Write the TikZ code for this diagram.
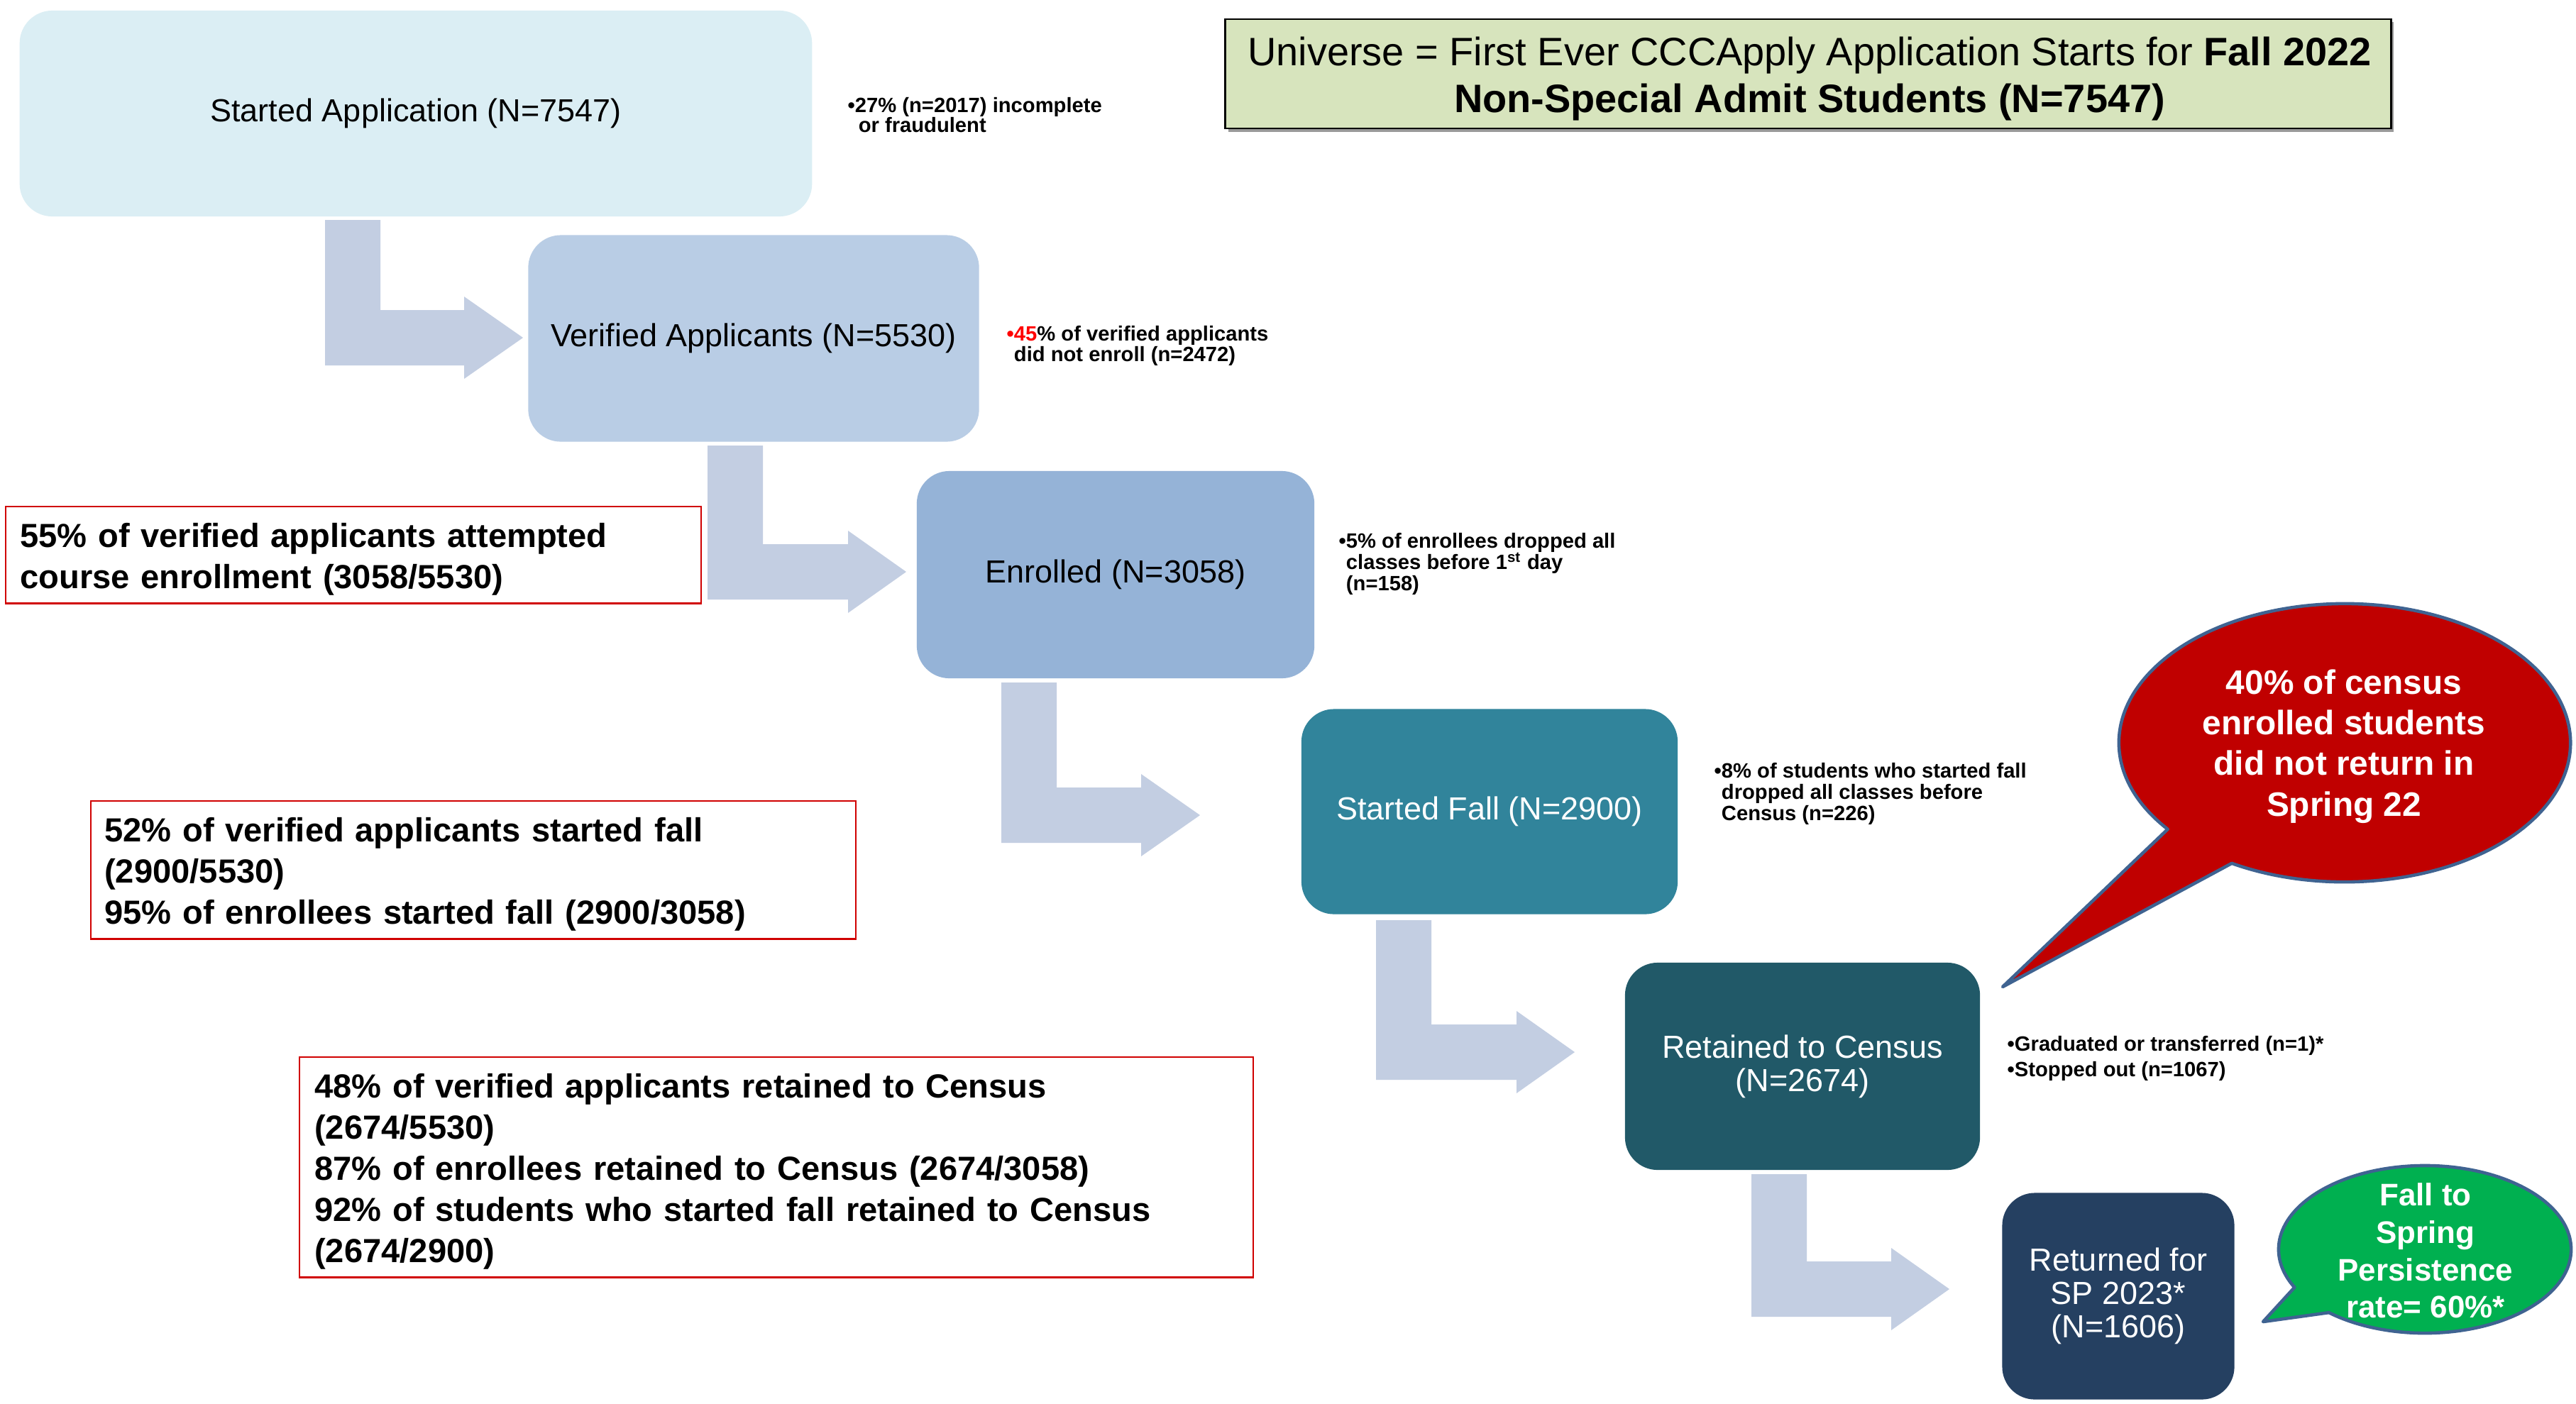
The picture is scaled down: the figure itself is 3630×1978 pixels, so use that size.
\documentclass[tikz,border=0pt]{standalone}
\usepackage{fontspec}
\setmainfont{Liberation Sans}
\usetikzlibrary{calc}
\definecolor{boxA}{HTML}{DBEEF4}
\definecolor{boxB}{HTML}{B9CDE5}
\definecolor{boxC}{HTML}{95B3D7}
\definecolor{boxD}{HTML}{31849B}
\definecolor{boxE}{HTML}{215968}
\definecolor{boxF}{HTML}{254061}
\definecolor{arrowC}{HTML}{C3CEE2}
\definecolor{univC}{HTML}{D7E4BD}
\definecolor{redline}{HTML}{D00000}
\definecolor{redbub}{HTML}{C00000}
\definecolor{greenbub}{HTML}{00B050}
\definecolor{bubline}{HTML}{3F6391}
\definecolor{notered}{HTML}{FF0000}
\newcommand\bendarrow[5]{%
  \fill[arrowC] (#1,#2) -- (#1+78,#2) -- (#1+78,#3-39) -- (#4,#3-39) -- (#4,#3-58) -- (#5,#3) -- (#4,#3+58) -- (#4,#3+39) -- (#1,#3+39) -- cycle;}
\newcommand\firststrut{\rule{0pt}{13pt}}
\begin{document}
\begin{tikzpicture}[x=0.01cm, y=-0.01cm,
  stage/.style={rounded corners=0.46cm, inner sep=0pt, align=center, font=\fontsize{12.8}{13.4}\selectfont},
  note/.style={anchor=north west, inner sep=0pt, align=left},
  statbox/.style={draw=redline, line width=0.7pt, fill=white, anchor=north west, align=left, inner ysep=0pt, font=\fontsize{13.4}{16.5}\selectfont\bfseries},
  bubtext/.style={text=white, align=center},
  bubble/.style={draw=bubline, line width=1.3pt, line join=round}]
\useasboundingbox (0,0) rectangle (3630,1978);
\fill[white] (0,0) rectangle (3630,1978);

% block arrows
\bendarrow{458}{310}{476}{654}{737}
\bendarrow{997}{628}{806}{1195}{1277}
\bendarrow{1411}{962}{1149}{1608}{1691}
\bendarrow{1939}{1297}{1483}{2137}{2219}
\bendarrow{2468}{1655}{1817}{2665}{2747}

% stage boxes
\node[stage, fill=boxA, minimum width=11.16cm, minimum height=2.90cm] (b1) at (586,160) {Started Application (N=7547)};
\node[stage, fill=boxB, minimum width=6.35cm, minimum height=2.91cm] (b2) at (1062,477) {Verified Applicants (N=5530)};
\node[stage, fill=boxC, minimum width=5.60cm, minimum height=2.92cm] (b3) at (1572,810) {Enrolled (N=3058)};
\node[stage, fill=boxD, text=white, minimum width=5.30cm, minimum height=2.89cm] (b4) at (2099,1144) {Started Fall (N=2900)};
\node[stage, fill=boxE, text=white, minimum width=5.00cm, minimum height=2.92cm] (b5) at (2540,1503) {Retained to Census\\(N=2674)};
\node[stage, fill=boxF, text=white, minimum width=3.27cm, minimum height=2.91cm] (b6) at (2985,1827) {Returned for\\SP 2023*\\(N=1606)};

% universe box
\fill[black!40] (1731,31) rectangle (3373,186);
\node[draw=black, line width=0.8pt, fill=univC, minimum width=16.42cm, minimum height=1.54cm, inner sep=0pt] (uni) at (2548,104) {};
\node[inner sep=0pt, align=center, font=\fontsize{15.9}{18.8}\selectfont] (unitext) at (2550,111) {Universe = First Ever CCCApply Application Starts for \textbf{Fall 2022}\\\textbf{Non-Special Admit Students (N=7547)}};

% side notes
\node[note, font=\fontsize{8.3}{8}\selectfont\bfseries] (n1) at (1194,137) {•27\% (n=2017) incomplete\\\phantom{•}\,or fraudulent};
\node[note, font=\fontsize{8.3}{8}\selectfont\bfseries] (n2) at (1418,459) {\textcolor{notered}{•45}\% of verified applicants\\\phantom{•}did not enroll (n=2472)};
\node[note, font=\fontsize{8.3}{8.5}\selectfont\bfseries] (n3) at (1886,751) {•5\% of enrollees dropped all\\\phantom{•}classes before 1\textsuperscript{st} day\\\phantom{•}(n=158)};
\node[note, font=\fontsize{8.3}{8.5}\selectfont\bfseries] (n4) at (2415,1075) {•8\% of students who started fall\\\phantom{•}dropped all classes before\\\phantom{•}Census (n=226)};
\node[note, font=\fontsize{8.3}{10}\selectfont\bfseries] (n5) at (2828,1460) {•Graduated or transferred (n=1)*\\•Stopped out (n=1067)};

% red stat boxes
\node[statbox, text width=9.39cm, inner xsep=0.2cm, minimum height=1.36cm] (r1) at (7,713) {\firststrut 55\% of verified applicants attempted\\course enrollment (3058/5530)};
\node[statbox, text width=10.39cm, inner xsep=0.19cm, minimum height=1.94cm] (r2) at (127,1128) {\firststrut 52\% of verified applicants started fall\\(2900/5530)\\95\% of enrollees started fall (2900/3058)};
\node[statbox, text width=13.01cm, inner xsep=0.21cm, minimum height=3.10cm] (r3) at (421,1489) {\firststrut 48\% of verified applicants retained to Census\\(2674/5530)\\87\% of enrollees retained to Census (2674/3058)\\92\% of students who started fall retained to Census\\(2674/2900)};

% red speech bubble
\coordinate (rc) at (3304,1047);
\coordinate (rtip) at (2822,1391);
\draw[bubble, fill=redbub] ($(rc)+(218.4:3.18cm and 1.96cm)$) -- (rtip) -- ($(rc)+(240:3.18cm and 1.96cm)$) arc[start angle=240, end angle=578.4, x radius=3.18cm, y radius=1.96cm] -- cycle;
\node[bubtext, font=\fontsize{13.6}{16.3}\selectfont\bfseries] (t40) at (3303,1052) {40\% of census\\enrolled students\\did not return in\\Spring 22};

% green speech bubble
\coordinate (gc) at (3417,1761);
\coordinate (gtip) at (3189,1863);
\draw[bubble, fill=greenbub] ($(gc)+(207:2.06cm and 1.18cm)$) -- (gtip) -- ($(gc)+(229:2.06cm and 1.18cm)$) arc[start angle=229, end angle=567, x radius=2.06cm, y radius=1.18cm] -- cycle;
\node[bubtext, font=\fontsize{12.5}{15}\selectfont\bfseries] (t60) at (3418,1763) {Fall to\\Spring\\Persistence\\rate= 60\%*};
\end{tikzpicture}
\end{document}
